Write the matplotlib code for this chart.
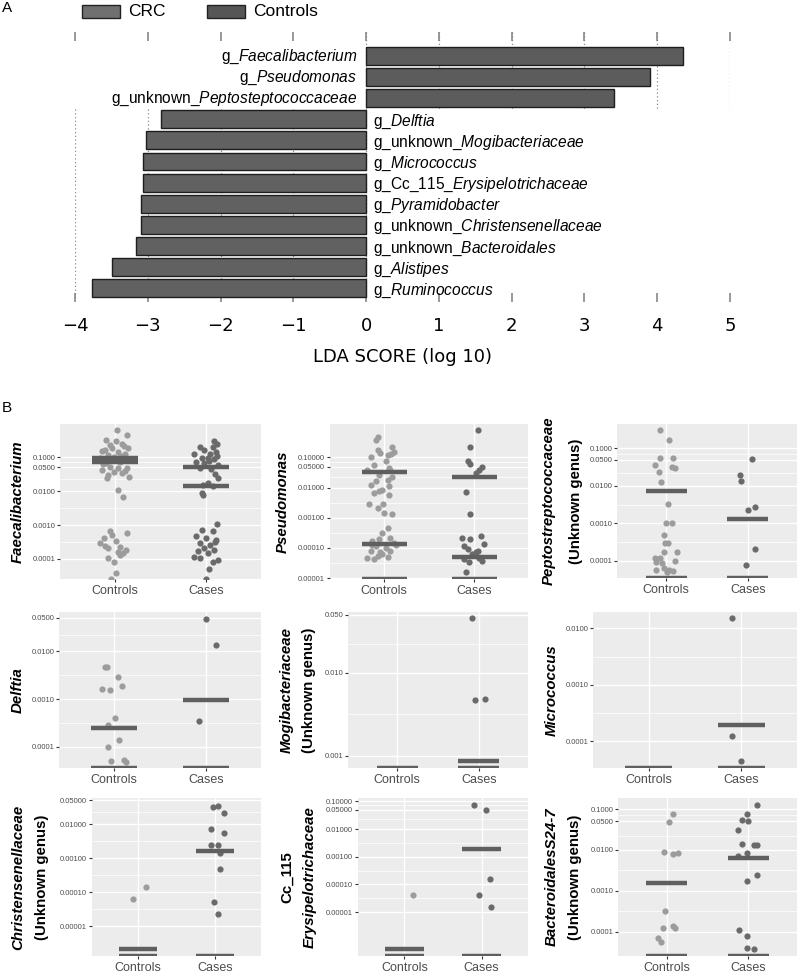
import matplotlib
matplotlib.use('Agg')
import matplotlib.pyplot as plt
from matplotlib.patches import Rectangle
import numpy as np

plt.rcParams['mathtext.fontset'] = 'custom'
plt.rcParams['mathtext.rm'] = 'Liberation Sans'
plt.rcParams['mathtext.it'] = 'Liberation Sans:italic'

# ---- panel A data (LEfSe LDA scores)
lda_prefix = ['g_', 'g_', 'g_unknown_', 'g_', 'g_unknown_', 'g_', 'g_Cc_115_', 'g_',
              'g_unknown_', 'g_unknown_', 'g_', 'g_']
lda_genus = ['Faecalibacterium', 'Pseudomonas', 'Peptosteptococcaceae', 'Delftia',
             'Mogibacteriaceae', 'Micrococcus', 'Erysipelotrichaceae', 'Pyramidobacter',
             'Christensenellaceae', 'Bacteroidales', 'Alistipes', 'Ruminococcus']
lda_score = [4.36, 3.90, 3.40, -2.82, -3.03, -3.07, -3.07, -3.09, -3.10, -3.16, -3.49, -3.77]
legend_names = ['CRC', 'Controls']

# ---- panel B data (relative abundance, 0 = zero abundance)
groups = ['Controls', 'Cases']

faec_ctrl = [0.65, 0.44, 0.32, 0.30, 0.23, 0.24, 0.19, 0.155, 0.19, 0.14, 0.117, 0.123, 0.093, 0.105,
             0.083, 0.066, 0.071, 0.053, 0.048, 0.048, 0.043, 0.036, 0.034, 0.029, 0.027, 0.025, 0.011,
             0.0069, 0.00067, 0.00058, 0.00043, 0.00034, 0.00023, 0.00021, 0.000166, 0.000185,
             0.000105, 0.000083, 0.000132, 0.000038, 0.00029, 0.00051, 0,
             0.21, 0.16, 0.11, 0.078, 0.062, 0.04, 0.00024, 0.00015]
faec_ctrl_jit = [0.02, 0.13, -0.10, 0.01, -0.05, 0.08, 0.14, -0.14, -0.03, 0.04, -0.08, 0.11, -0.16, -0.01,
                 0.15, -0.10, 0.06, -0.05, 0.03, 0.13, -0.14, -0.01, 0.08, -0.08, 0.15, -0.09, 0.03,
                 0.09, -0.05, 0.13, -0.12, 0.01, 0.06, -0.08, 0.03, 0.12,
                 -0.07, -0.01, 0.06, 0.01, -0.16, -0.03, -0.04,
                 0.10, -0.11, 0.07, 0.05, -0.13, 0.11, -0.11, 0.09]
faec_case = [0.30, 0.20, 0.20, 0.165, 0.123, 0.123, 0.14, 0.093, 0.098, 0.089, 0.074, 0.066, 0.059,
             0.048, 0.045, 0.032, 0.024, 0.015, 0.017, 0.014, 0.0087, 0.0078, 0.00072, 0.00065, 0.00049,
             0.00041, 0.00036, 0.00029, 0.00026, 0.00021, 0.000185, 0.000118, 0.000105, 0.000148,
             0.000093, 0.000083, 0.000051, 0,
             0.25, 0.11, 0.078, 0.0011, 0.00031, 0.00017]
faec_case_jit = [0.09, -0.07, 0.07, -0.02, -0.13, 0.04, 0.11, -0.05, 0.02, 0.09, -0.11, -0.02, 0.13,
                 -0.07, 0.05, 0.10, 0.13, -0.04, 0.02, 0.07, -0.05, -0.04, -0.05, 0.07, -0.11,
                 0.0, 0.11, -0.07, 0.04, -0.02, 0.09, -0.13, -0.07, 0.02,
                 0.13, 0.07, 0.03, 0.0,
                 0.12, 0.12, 0.03, 0.12, 0.10, -0.09]
faec_ctrl_med = [0.098, 0.072]
faec_case_med = [0.053, 0.0145]

pseu_ctrl = [0.49, 0.38, 0.23, 0.10, 0.138, 0.123, 0.15, 0.18, 0.057, 0.074, 0.039, 0.039, 0.027, 0.016,
             0.018, 0.0126, 0.0085, 0.0066, 0.0059, 0.0028, 0.0021, 0.00145, 0.00129, 0.0028,
             0.00047, 0.00032, 0.00022, 0.00017, 0.000195, 0.00015, 0.000117, 0.000102, 0.000079,
             0.000071, 0.000079, 0.000048, 0.000055, 0.000043, 0.00005, 0.000062,
             0.13, 0.045, 0.022, 0.011, 0.0075, 0.00013, 0.000125]
pseu_ctrl_jit = [-0.07, -0.09, 0.09, -0.15, -0.04, 0.04, 0.11, -0.07, -0.11, 0.02, -0.19, 0.07, -0.06, -0.09,
                 0.04, -0.15, -0.02, -0.11, 0.06, -0.17, -0.07, 0.0, 0.09, -0.01,
                 0.04, -0.02, 0.07, -0.13, -0.06, 0.11, -0.09, 0.02, -0.15,
                 -0.04, 0.07, -0.19, -0.07, -0.11, 0.04, -0.02,
                 0.08, 0.06, 0.09, 0.05, -0.06, 0.13, -0.13]
pseu_case = [0.81, 0.23, 0.074, 0.060, 0.039, 0.047, 0.030, 0.0072, 0.00135, 0.00022, 0.000195, 0.00025,
             0.000117, 0.000091, 0.000079, 0.000132, 0.000062, 0.000048, 0.000043, 0.000037, 0.000033,
             0.0000155, 0.000076]
pseu_case_jit = [0.04, -0.04, -0.07, -0.04, 0.06, 0.09, 0.02, -0.09, -0.05, -0.13, -0.04, 0.08,
                 -0.11, -0.07, 0.04, 0.11, -0.02, 0.06, -0.11, 0.09, -0.06,
                 -0.09, 0.02]
pseu_ctrl_med = [0.032, 0.000132, 0]
pseu_case_med = [0.022, 0.000051, 0]

pept_ctrl = [0.31, 0.166, 0.036, 0.054, 0.024, 0.0129, 0.056, 0.032, 0.029, 0.0032, 0.001, 0.00105, 0.0005,
             0.00029, 0.00029, 0.000174, 0.000115, 0.00012, 0.000093, 0.000174, 0.000098, 0.000056,
             0.000065, 0.000056, 0.000053, 0.000051, 0.000085]
pept_ctrl_jit = [-0.08, 0.03, -0.13, -0.08, -0.09, -0.06, 0.09, 0.07, 0.11, 0.02, 0.0, 0.07, -0.03,
                 -0.01, 0.02, -0.03, -0.07, -0.14, -0.12, 0.13, 0.11, -0.12,
                 -0.02, 0.03, 0.09, 0.01, -0.05]
pept_case = [0.051, 0.0195, 0.0138, 0.0028, 0.0022, 0.000204, 0.000079]
pept_case_jit = [0.05, -0.10, -0.08, 0.09, 0.0, 0.09, -0.02]
pept_ctrl_med = [0.0074, 0]
pept_case_med = [0.0013, 0]

delf_ctrl = [0.0047, 0.0046, 0.0029, 0.00166, 0.00155, 0.00187, 0.0004, 0.00029, 0.000141, 0.000098,
             0.000051, 0.000054, 0.000049]
delf_ctrl_jit = [-0.10, -0.08, 0.04, -0.13, -0.05, 0.09, 0.01, -0.07, 0.05, -0.07, -0.03, 0.11, 0.13]
delf_case = [0.048, 0.0138, 0.00035]
delf_case_jit = [0.0, 0.11, -0.08]
delf_ctrl_med = [0.000245, 0]
delf_case_med = [0.00095, 0]

mogi_ctrl = []
mogi_ctrl_jit = []
mogi_case = [0.045, 0.0047, 0.0048]
mogi_case_jit = [-0.08, -0.05, 0.08]
mogi_ctrl_med = [0]
mogi_case_med = [0.00087, 0]

micr_ctrl = []
micr_ctrl_jit = []
micr_case = [0.015, 0.000123, 0.0000447]
micr_case_jit = [-0.10, -0.10, 0.0]
micr_ctrl_med = [0]
micr_case_med = [0.000195, 0]

chri_ctrl = [0.000062, 0.00014]
chri_ctrl_jit = [-0.07, 0.10]
chri_case = [0.031, 0.034, 0.022, 0.0071, 0.0054, 0.0024, 0.0024, 0.00138, 0.00047, 0.000052, 0.0000224]
chri_case_jit = [-0.02, 0.04, 0.12, -0.05, 0.12, -0.05, 0.04, 0.07, 0.07, -0.01, 0.04]
chri_ctrl_med = [0.0000021, 0]
chri_case_med = [0.00165, 0]

ccer_ctrl = [0.000042]
ccer_ctrl_jit = [0.11]
ccer_case = [0.076, 0.05, 0.00016, 0.000041, 0.0000155]
ccer_case_jit = [-0.10, 0.06, 0.11, -0.03, 0.12]
ccer_ctrl_med = [0.00000048, 0]
ccer_case_med = [0.0019, 0]

bact_ctrl = [0.076, 0.049, 0.0091, 0.0078, 0.0083, 0.00033, 0.000123, 0.000141, 0.000123, 0.000069, 0.000055]
bact_ctrl_jit = [0.08, 0.03, -0.04, 0.08, 0.14, -0.02, -0.05, 0.07, 0.10, -0.11, -0.07]
bact_case = [0.126, 0.076, 0.054, 0.051, 0.031, 0.0138, 0.0129, 0.0129, 0.0085, 0.0071, 0.00245, 0.00174,
             0.000112, 0.000078, 0.00004, 0.000038]
bact_case_jit = [0.11, -0.02, -0.07, 0.0, -0.12, -0.08, 0.07, 0.11, -0.02, -0.13, 0.11, -0.02,
                 -0.11, -0.02, -0.02, 0.07]
bact_ctrl_med = [0.0016, 0]
bact_case_med = [0.0063, 0]

W, H = 800, 980
fig = plt.figure(figsize=(W / 100, H / 100), dpi=100)


def fx(x):
    return x / W


def fy(y):
    return 1 - y / H


def box(l, t, r, b):
    return [fx(l), fy(b), fx(r) - fx(l), fy(t) - fy(b)]


# %% panel A
fig.text(fx(2), fy(8), 'A', fontsize=11, family='Liberation Sans', va='center')
legend_cols = ['#707070', '#565656']
for i, (nm, c) in enumerate(zip(legend_names, legend_cols)):
    x0 = 82 + 125 * i
    fig.patches.append(Rectangle((fx(x0), fy(18)), fx(38), 13 / H, transform=fig.transFigure,
                                 facecolor=c, edgecolor='#222222', lw=1))
    fig.text(fx(x0 + 46), fy(12), nm, fontsize=12.5, family='Liberation Sans', va='center')

axA = fig.add_axes(box(75, 32, 730, 302))
rows = np.arange(len(lda_score))
pitch = 21.1
axA.set_ylim((302 - 56) / pitch, (32 - 56) / pitch)
axA.set_xlim(-4, 5)
pos = [r for r, s in zip(rows, lda_score) if s > 0]
neg = [r for r, s in zip(rows, lda_score) if s < 0]
for t in range(0, 6):
    axA.plot([t, t], [axA.get_ylim()[1], max(pos) + 0.5], ls=(0, (1, 2)), color='#8a8a8a', lw=0.9, zorder=0)
for t in range(-4, 1):
    axA.plot([t, t], [min(neg) - 0.5, max(neg) + 0.5], ls=(0, (1, 2)), color='#8a8a8a', lw=0.9, zorder=0)
bar_cols = ['#5c5c5c' if s > 0 else '#616161' for s in lda_score]
axA.barh(rows, lda_score, height=0.85, color=bar_cols, edgecolor='#1e1e1e', lw=1, zorder=2)
for r, s, p, g in zip(rows, lda_score, lda_prefix, lda_genus):
    lab = r'$\mathrm{' + p.replace('_', r'\_') + r'}\mathit{' + g + '}$'
    if s > 0:
        axA.text(-0.12, r + 0.05, lab, ha='right', va='center', fontsize=11.2, zorder=3)
    else:
        axA.text(0.09, r + 0.12, lab, ha='left', va='center', fontsize=11.2, zorder=3)
for sp in axA.spines.values():
    sp.set_visible(False)
axA.set_yticks([])
axA.set_xticks(range(-4, 6))
axA.set_xticklabels([str(t).replace('-', '\u2212') for t in range(-4, 6)])
axA.tick_params(axis='x', top=True, bottom=True, direction='in', length=6.5, width=1.2,
                color='#888888', labelsize=13, pad=11)
fig.text(fx(402.5), fy(357), 'LDA SCORE (log 10)', fontsize=13, ha='center', va='center')

# %% panel B
fig.text(fx(2), fy(408), 'B', fontsize=11, family='Liberation Sans', va='center')

panels = [
    (faec_ctrl, faec_ctrl_jit, faec_case, faec_case_jit, faec_ctrl_med, faec_case_med,
     ['Faecalibacterium'], [0.1, 0.05, 0.01, 0.001, 0.0001], 4),
    (pseu_ctrl, pseu_ctrl_jit, pseu_case, pseu_case_jit, pseu_ctrl_med, pseu_case_med,
     ['Pseudomonas'], [0.1, 0.05, 0.01, 0.001, 0.0001, 0.00001], 5),
    (pept_ctrl, pept_ctrl_jit, pept_case, pept_case_jit, pept_ctrl_med, pept_case_med,
     ['Peptostreptococcaceae', '(Unknown genus)'], [0.1, 0.05, 0.01, 0.001, 0.0001], 4),
    (delf_ctrl, delf_ctrl_jit, delf_case, delf_case_jit, delf_ctrl_med, delf_case_med,
     ['Delftia'], [0.05, 0.01, 0.001, 0.0001], 4),
    (mogi_ctrl, mogi_ctrl_jit, mogi_case, mogi_case_jit, mogi_ctrl_med, mogi_case_med,
     ['Mogibacteriaceae', '(Unknown genus)'], [0.05, 0.01, 0.001], 3),
    (micr_ctrl, micr_ctrl_jit, micr_case, micr_case_jit, micr_ctrl_med, micr_case_med,
     ['Micrococcus'], [0.01, 0.001, 0.0001], 4),
    (chri_ctrl, chri_ctrl_jit, chri_case, chri_case_jit, chri_ctrl_med, chri_case_med,
     ['Christensenellaceae', '(Unknown genus)'], [0.05, 0.01, 0.001, 0.0001, 0.00001], 5),
    (ccer_ctrl, ccer_ctrl_jit, ccer_case, ccer_case_jit, ccer_ctrl_med, ccer_case_med,
     ['Cc_115', 'Erysipelotrichaceae'], [0.1, 0.05, 0.01, 0.001, 0.0001, 0.00001], 5),
    (bact_ctrl, bact_ctrl_jit, bact_case, bact_case_jit, bact_ctrl_med, bact_case_med,
     ['BacteroidalesS24-7', '(Unknown genus)'], [0.1, 0.05, 0.01, 0.001, 0.0001], 4),
]
# layout: panel box (left, top, right, bottom) in px, log10 y-limits, y-label x positions
boxes = [(60, 424, 261, 579), (330, 424, 528, 579), (617, 424, 797, 578),
         (59, 612, 261, 768), (348, 612, 528, 768), (593, 612, 797, 768),
         (92, 798, 261, 956), (358, 798, 528, 956), (618, 798, 797, 956)]
ylims = [(-4.59, -0.02), (-5.03, 0.11), (-4.46, -0.35),
         (-4.44, -1.18), (-3.15, -1.27), (-4.47, -1.71),
         (-5.88, -1.23), (-6.58, -0.88), (-4.59, -0.73)]
label_x = [[18], [283], [549, 576],
           [18], [287, 309], [552],
           [18, 42], [287, 310], [552, 575]]
label_style = [['italic'], ['italic'], ['italic', 'normal'],
               ['italic'], ['italic', 'normal'], ['italic'],
               ['italic', 'normal'], ['normal', 'italic'], ['italic', 'normal']]

pt_cols = ['#9c9c9c', '#6a6a6a']
for k, (pan, bx, yl, lx, ls) in enumerate(zip(panels, boxes, ylims, label_x, label_style)):
    c_v, c_j, k_v, k_j, c_m, k_m, names, ticks, dec = pan
    ax = fig.add_axes(box(*bx))
    ax.set_facecolor('#ececec')
    ax.set_yscale('log')
    lo, hi = 10 ** yl[0], 10 ** yl[1]
    ax.set_ylim(lo, hi)
    ax.set_xlim(0.4, 2.6)
    lt = np.log10(ticks)
    minor = [10 ** ((a + b) / 2) for a, b in zip(lt[:-1], lt[1:])]
    for m in minor:
        ax.axhline(m, color='white', lw=0.5, zorder=0)
    for t in ticks:
        ax.axhline(t, color='white', lw=1.0, zorder=0)
    for xg in (1, 2):
        ax.axvline(xg, color='white', lw=1.0, zorder=0)
    for gi, (vals, jit, meds) in enumerate([(c_v, c_j, c_m), (k_v, k_j, k_m)]):
        xc = gi + 1
        if vals:
            yv = [v if v > 0 else lo for v in vals]
            ax.scatter(xc + np.array(jit), yv, s=20, color=pt_cols[gi], lw=0, zorder=2)
        for m in meds:
            ym = m if m > 0 else lo
            ax.plot([xc - 0.25, xc + 0.25], [ym, ym], color='#5f5f5f', lw=3.2,
                    solid_capstyle='butt', zorder=3)
    ax.set_yticks(ticks)
    ax.set_yticklabels([f'{t:.{dec}f}' for t in ticks])
    ax.yaxis.set_minor_locator(matplotlib.ticker.NullLocator())
    ax.set_xticks([1, 2])
    ax.set_xticklabels(groups)
    ax.tick_params(axis='y', labelsize=5.5, labelcolor='#4d4d4d', length=2, width=0.8,
                   color='#333333', pad=1.5)
    ax.tick_params(axis='x', labelsize=9, labelcolor='#4d4d4d', length=2.5, width=0.8,
                   color='#333333', pad=2)
    for lab in ax.get_yticklabels() + ax.get_xticklabels():
        lab.set_family('Liberation Sans')
    for sp in ax.spines.values():
        sp.set_visible(False)
    yc = (bx[1] + bx[3]) / 2
    for nm, x, st in zip(names, lx, ls):
        fig.text(fx(x), fy(yc), nm, rotation=90, ha='center', va='center', fontsize=10.8,
                 family='Liberation Sans', fontweight='bold', style=st)

fig.savefig('out.png', dpi=100)
